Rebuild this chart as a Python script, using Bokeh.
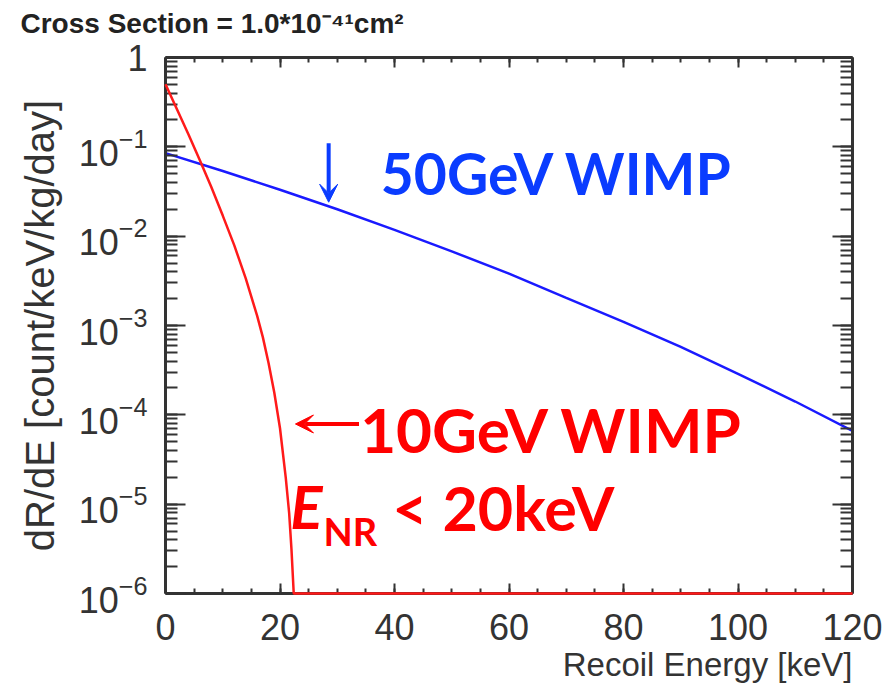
from bokeh.plotting import figure
from bokeh.models import (LinearAxis, LogAxis, Range1d, Arrow, VeeHead, Label,
                          Title, LogTicker, SingleIntervalTicker,
                          CustomLabelingPolicy)
from bokeh.embed import file_html
from bokeh.resources import INLINE

# Differential recoil rate, 50 GeV WIMP
energy_50 = [0, 10, 20, 30, 40, 50, 60, 70, 80, 90, 100, 110, 120]
rate_50 = [0.0851, 0.0537, 0.0331, 0.0200, 0.01175, 6.76e-3, 3.80e-3,
           2.04e-3, 1.10e-3, 5.75e-4, 2.88e-4, 1.41e-4, 6.6e-5]

# Differential recoil rate, 10 GeV WIMP (floored at the axis minimum)
energy_10 = [0, 2, 4, 6, 8, 10, 12, 14, 16, 17, 18, 19, 20, 21, 21.6, 22,
             22.4, 120]
rate_10 = [0.501, 0.263, 0.138, 0.0708, 0.0355, 0.0170, 7.94e-3, 3.39e-3,
           1.29e-3, 7.41e-4, 3.80e-4, 1.78e-4, 7.08e-5, 2.0e-5, 7.94e-6,
           3.16e-6, 1e-6, 1e-6]

AX = "#333333"
SANS = "Liberation Sans"

p = figure(width=887, height=699, x_range=Range1d(0, 120),
           y_range=Range1d(1e-6, 1), y_axis_type="log",
           output_backend="svg", toolbar_location=None,
           min_border_left=165, min_border_right=35,
           min_border_top=57, min_border_bottom=106,
           x_axis_location=None, y_axis_location=None)
p.grid.visible = False
p.outline_line_color = None
p.background_fill_color = "white"
p.border_fill_color = "white"

no_labels = CustomLabelingPolicy(
    code="for (const i of indices) indices.unset(i); return indices")


def style_axis(ax, labels=True):
    ax.axis_line_color = AX
    ax.axis_line_width = 3
    ax.major_tick_line_color = AX
    ax.minor_tick_line_color = AX
    ax.major_tick_line_width = 2
    ax.minor_tick_line_width = 2
    ax.major_tick_out = 0
    ax.minor_tick_out = 0
    if labels:
        ax.major_label_text_font = SANS
        ax.major_label_text_font_size = "36px"
        ax.major_label_text_color = AX
    else:
        ax.major_label_policy = no_labels


for loc in ("below", "above"):
    ax = LinearAxis(ticker=SingleIntervalTicker(interval=20, num_minor_ticks=4))
    style_axis(ax, labels=(loc == "below"))
    ax.major_tick_in = 10
    ax.minor_tick_in = 5
    if loc == "below":
        ax.major_label_standoff = 20
    p.add_layout(ax, loc)

for loc in ("left", "right"):
    ax = LogAxis(ticker=LogTicker(num_minor_ticks=10))
    style_axis(ax, labels=(loc == "left"))
    ax.major_tick_in = 20
    ax.minor_tick_in = 12
    if loc == "left":
        ax.major_label_overrides = {1: "1"}
        ax.major_label_standoff = 18
        ax.axis_label = "dR/dE [count/keV/kg/day]"
        ax.axis_label_text_font = SANS
        ax.axis_label_text_font_size = "40px"
        ax.axis_label_text_font_style = "normal"
        ax.axis_label_text_color = AX
        ax.axis_label_standoff = 14
    p.add_layout(ax, loc)

# Heading above the frame and the x caption flush with the frame's right edge
p.add_layout(Title(text="Cross Section = 1.0*10\u207b\u2074\u00b9cm\u00b2",
                   text_font=SANS, text_font_size="28px",
                   text_font_style="bold", text_color="#222222",
                   align="left", offset=-145, standoff=5), "above")
p.add_layout(Title(text="Recoil Energy [keV]", text_font=SANS,
                   text_font_size="33px", text_font_style="normal",
                   text_color=AX, align="right", standoff=3), "below")

r10 = p.line(energy_10, rate_10, line_color="#ff1a1a", line_width=2.5,
             level="overlay")
r50 = p.line(energy_50, rate_50, line_color="#1a1aff", line_width=2.5)

BLUE = "#0a3cff"
RED = "#ff0000"
BIG = "Lato"

p.add_layout(Arrow(x_start=28.5, y_start=0.11, x_end=28.5, y_end=0.024,
                   line_color=BLUE, line_width=4,
                   end=VeeHead(size=18, fill_color=BLUE, line_color=BLUE)))
p.add_layout(Label(x=37.6, y=0.051, text="50GeV WIMP", text_color=BLUE,
                   text_font=BIG, text_font_style="bold",
                   text_font_size="57px", text_baseline="alphabetic"))

p.add_layout(Arrow(x_start=33.8, y_start=7.9e-5, x_end=22.7, y_end=7.9e-5,
                   line_color=RED, line_width=4,
                   end=VeeHead(size=18, fill_color=RED, line_color=RED)))
p.add_layout(Label(x=34.0, y=7.0e-5, text="10GeV WIMP", text_color=RED,
                   text_font=BIG, text_font_style="bold",
                   text_font_size="62px", text_baseline="alphabetic"))
p.add_layout(Label(x=21.8, y=9.5e-6, text="E", text_color=RED,
                   text_font=BIG, text_font_style="bold italic",
                   text_font_size="60px", text_baseline="alphabetic"))
p.add_layout(Label(x=27.6, y=5.0e-6, text="NR", text_color=RED,
                   text_font=BIG, text_font_style="bold",
                   text_font_size="38px", text_baseline="alphabetic"))
p.add_layout(Label(x=39.6, y=9.2e-6, text="< 20keV", text_color=RED,
                   text_font=BIG, text_font_style="bold",
                   text_font_size="61px", text_baseline="alphabetic"))

open("out.html", "w").write(file_html(p, INLINE))
